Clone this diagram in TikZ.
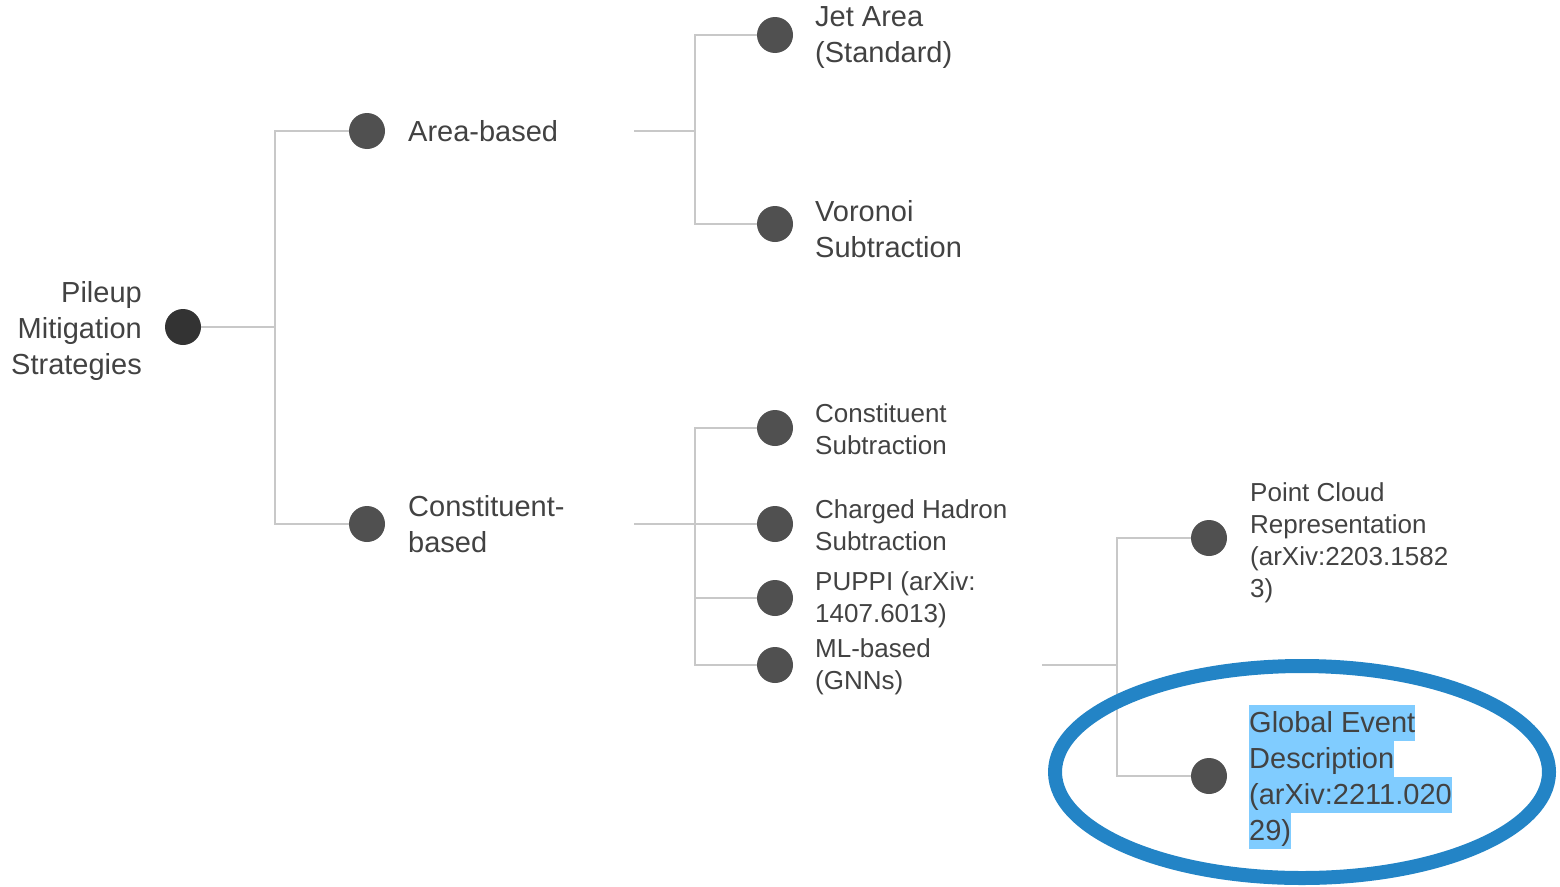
\documentclass[tikz,border=0pt]{standalone}
\usepackage{fontspec}
\setmainfont{Liberation Sans}
\definecolor{txt}{HTML}{424242}
\definecolor{dotc}{HTML}{505050}
\definecolor{rootc}{HTML}{333333}
\definecolor{linec}{HTML}{C8C8C8}
\definecolor{hl}{HTML}{80CCFF}
\definecolor{ring}{HTML}{2384C6}
\newcommand{\hlbox}[1]{{\setlength{\fboxsep}{0pt}\colorbox{hl}{\rule[-9pt]{0pt}{36pt}#1}}}
\begin{document}
\begin{tikzpicture}[x=1pt,y=-1pt,
  dotnode/.style={circle,fill=dotc,minimum size=36pt,inner sep=0pt},
  rootdot/.style={circle,fill=rootc,minimum size=36pt,inner sep=0pt},
  conn/.style={draw=linec,line width=2pt},
  biglbl/.style={anchor=west,align=left,inner sep=0pt,text=txt,font=\fontsize{29}{36}\selectfont},
  smalllbl/.style={anchor=west,align=left,inner sep=0pt,text=txt,font=\fontsize{26}{32}\selectfont}]
\useasboundingbox (0,0) rectangle (1560,886);
% dots
\node[rootdot] (root) at (183,327) {};
\node[dotnode] (area) at (367,131) {};
\node[dotnode] (const) at (367,524) {};
\node[dotnode] (jet) at (775,35) {};
\node[dotnode] (vor) at (775,224) {};
\node[dotnode] (cs) at (775,428) {};
\node[dotnode] (chs) at (775,524) {};
\node[dotnode] (puppi) at (775,598) {};
\node[dotnode] (ml) at (775,665) {};
\node[dotnode] (pc) at (1209,538) {};
\node[dotnode] (ge) at (1209,776) {};
% labels
\node[biglbl,anchor=east,align=right] (rootlbl) at (142,331) {Pileup\\Mitigation\\Strategies};
\node[biglbl] (arealbl) at (408,131) {Area-based};
\node[biglbl] (constlbl) at (408,524) {Constituent-\\based};
\node[biglbl] (jetlbl) at (815,38) {Jet Area\\(Standard)};
\node[biglbl] (vorlbl) at (815,229) {Voronoi\\Subtraction};
\node[smalllbl] (cslbl) at (815,429) {Constituent\\Subtraction};
\node[smalllbl] (chslbl) at (815,525) {Charged Hadron\\Subtraction};
\node[smalllbl] (puppilbl) at (815,600) {PUPPI (arXiv:\\1407.6013)};
\node[smalllbl] (mllbl) at (815,667) {ML-based\\(GNNs)};
\node[smalllbl] (pclbl) at (1250,543) {Point Cloud\\Representation\\(arXiv:2203.1582\\3)};
\node[biglbl] (gelbl) at (1249,777) {\hlbox{Global Event}\\\hlbox{Description}\\\hlbox{(arXiv:2211.020}\\\hlbox{29)}};
% junction coordinates
\coordinate (jr) at (275,327);
\coordinate (aout) at (634,131);
\coordinate (ja) at (695,131);
\coordinate (cout) at (634,524);
\coordinate (jc) at (695,524);
\coordinate (mout) at (1042,665);
\coordinate (jm) at (1117,665);
% connectors
\draw[conn] (root) -- (jr);
\draw[conn] (jr) |- (area);
\draw[conn] (jr) |- (const);
\draw[conn] (aout) -- (ja);
\draw[conn] (ja) |- (jet);
\draw[conn] (ja) |- (vor);
\draw[conn] (cout) -- (jc);
\draw[conn] (jc) |- (cs);
\draw[conn] (jc) -- (chs);
\draw[conn] (jc) |- (puppi);
\draw[conn] (jc) |- (ml);
\draw[conn] (mout) -- (jm);
\draw[conn] (jm) |- (pc);
\draw[conn] (jm) |- (ge);
% highlight ring
\draw[ring,line width=14pt] (1302,772) ellipse [x radius=247, y radius=106];
\end{tikzpicture}
\end{document}
